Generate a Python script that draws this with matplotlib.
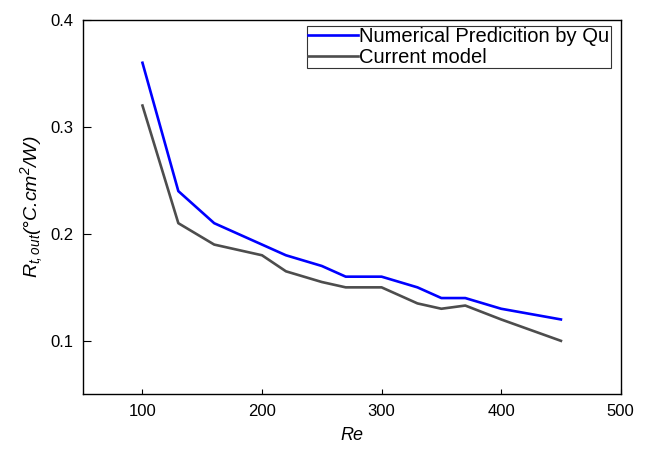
import numpy as np
import matplotlib.pyplot as plt

plt.rcParams['font.family'] = ['Liberation Sans', 'DejaVu Sans']
plt.rcParams['mathtext.fontset'] = 'custom'
plt.rcParams['mathtext.rm'] = 'Liberation Sans:italic'
plt.rcParams['mathtext.it'] = 'Liberation Sans:italic'

re_vals = [100, 130, 160, 200, 220, 250, 270, 300, 330, 350, 370, 400, 450]
qu_vals = [0.36, 0.24, 0.21, 0.19, 0.18, 0.17, 0.16, 0.16, 0.15, 0.14, 0.14, 0.13, 0.12]
model_vals = [0.32, 0.21, 0.19, 0.18, 0.165, 0.155, 0.15, 0.15, 0.135, 0.13, 0.133, 0.12, 0.10]

fig = plt.figure(figsize=(6.49, 4.49), dpi=100)
ax = fig.add_axes([0.1274, 0.1218, 0.829, 0.8337])

ax.plot(re_vals, qu_vals, color='#0000ff', lw=1.9, label='Numerical Predicition by Qu')
ax.plot(re_vals, model_vals, color='#4d4d4d', lw=1.9, label='Current model')

ax.set_xlim(50, 500)
ax.set_ylim(0.05, 0.4)
ax.set_xticks([100, 200, 300, 400, 500])
ax.set_yticks([0.1, 0.2, 0.3, 0.4])
ax.tick_params(axis='x', direction='in', length=3.8, labelsize=12, pad=7)
ax.tick_params(axis='y', direction='in', length=5.8, labelsize=12, pad=6.8)
for s in ax.spines.values():
    s.set_linewidth(1.0)

ax.set_xlabel('Re', fontsize=13, style='italic', labelpad=6)
ax.set_ylabel(r'$R_{t,out}$(°C.cm$^2$/W)', fontsize=14, style='italic', labelpad=4)

leg = ax.legend(loc='upper left', bbox_to_anchor=(0.417, 0.984), borderaxespad=0,
                fontsize=14.5, handlelength=2.5, handletextpad=0.05, borderpad=0.05,
                labelspacing=0.1, fancybox=False, framealpha=1)
leg.get_frame().set_edgecolor('#333333')
leg.get_frame().set_linewidth(0.8)

fig.savefig('out.png', dpi=100)
